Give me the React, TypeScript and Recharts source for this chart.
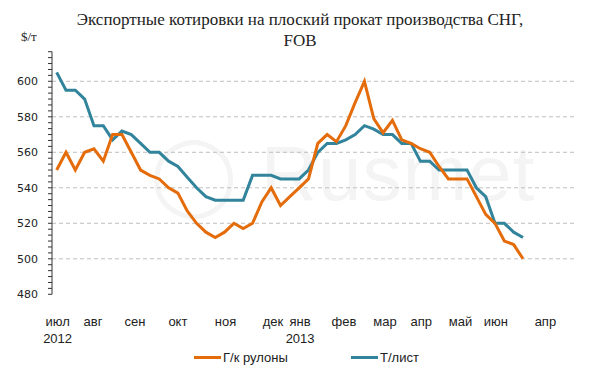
// Export quotes for CIS flat steel - Recharts line chart
import { LineChart, Line, XAxis, YAxis, ReferenceLine } from 'recharts';

const SERIES_NAMES = ['Г/к рулоны', 'Т/лист'];
const COLORS = ['#E46C0A', '#31849B'];

// weekly quotes, $/t, Jul 2012 - Jun 2013
const HR_COIL = [
    550, 560, 550, 560, 562, 555, 570, 570, 560, 550, 547, 545, 540, 537, 527, 520, 515,
    512, 515, 520, 517, 520, 532, 540, 530, 535, 540, 545, 565, 570, 566, 575, 588, 600,
    579, 571, 578, 567, 565, 562, 560, 552, 545, 545, 545, 535, 525, 520, 510, 508, 500,
];
const PLATE = [
    605, 595, 595, 590, 575, 575, 567, 572, 570, 565, 560, 560, 555, 552, 546, 540, 535,
    533, 533, 533, 533, 547, 547, 547, 545, 545, 545, 550, 560, 565, 565, 567, 570, 575,
    573, 570, 570, 565, 565, 555, 555, 550, 550, 550, 550, 540, 535, 520, 520, 515, 512,
];

const WEEK_SLOTS = 56;
const MONTHS = ['июл', 'авг', 'сен', 'окт', 'ноя', 'дек', 'янв', 'фев', 'мар', 'апр', 'май', 'июн', 'апр'];
const MONTH_AT = [0.6, 4.4, 8.9, 13.5, 18.6, 23.7, 26.6, 31.3, 35.7, 39.6, 43.8, 47.6, 52.9];
const YEARS = ['2012', '', '', '', '', '', '2013', '', '', '', '', '', ''];

const Y_MIN = 480;
const Y_MAX = 616.67;
const Y_LABELS = [480, 500, 520, 540, 560, 580, 600];
const GRID = [500, 520, 540, 560, 580, 600];

const data = HR_COIL.map((v, i) => ({ x: i + 0.5, hr: v, plate: PLATE[i] }));
const weekTicks = Array.from({ length: WEEK_SLOTS + 1 }, (_, i) => i);
const yTicks = Array.from({ length: 42 }, (_, k) => Y_MIN + (k * 20) / 6);

const MonthTick = (props: any) => {
    const { x, y, payload } = props;
    const idx = MONTH_AT.indexOf(payload.value);
    return (
        <g>
            <text x={x} y={y + 32} textAnchor="middle" fontSize={13} fill="#222" fontFamily="Liberation Sans, Arial">
                {MONTHS[idx]}
            </text>
            {YEARS[idx] && (
                <text x={x} y={y + 49} textAnchor="middle" fontSize={13} fill="#222" fontFamily="Liberation Sans, Arial">
                    {YEARS[idx]}
                </text>
            )}
        </g>
    );
};

export default function App() {
    return (
        <div style={{ position: 'absolute', left: 0, top: 0, width: 600, height: 380, background: '#fff' }}>
            {/* faint watermark */}
            <div style={{ position: 'absolute', left: 150, top: 128, fontFamily: 'Liberation Sans, Arial', fontSize: 78, color: '#f4f4f4', letterSpacing: 1 }}>
                ◯ Rusmet
            </div>
            <div style={{ position: 'absolute', top: 9, left: 0, width: 600, textAlign: 'center', fontFamily: 'Liberation Serif, serif', fontSize: 17, lineHeight: '21px', color: '#222' }}>
                Экспортные котировки на плоский прокат производства СНГ,
                <br />
                FOB
            </div>
            <div style={{ position: 'absolute', top: 29, left: 21, fontFamily: 'Liberation Serif, serif', fontSize: 13, color: '#222' }}>
                $/т
            </div>
            <div style={{ position: 'absolute', left: 0, top: 0 }}>
                <LineChart width={600} height={380} data={data} margin={{ top: 51.7, right: 25.7, left: 0, bottom: 25.7 }}>
                    <XAxis
                        dataKey="x"
                        type="number"
                        domain={[0, WEEK_SLOTS]}
                        ticks={weekTicks}
                        interval={0}
                        tick={false}
                        tickSize={4}
                        height={0}
                        stroke="#333"
                    />
                    <XAxis
                        xAxisId="months"
                        dataKey="x"
                        type="number"
                        domain={[0, WEEK_SLOTS]}
                        ticks={MONTH_AT}
                        interval={0}
                        axisLine={false}
                        tickLine={false}
                        tickSize={0}
                        tickMargin={0}
                        height={60}
                        tick={<MonthTick />}
                    />
                    <YAxis
                        type="number"
                        domain={[Y_MIN, Y_MAX]}
                        ticks={yTicks}
                        interval={0}
                        width={52}
                        tickSize={4}
                        tickMargin={10}
                        stroke="#333"
                        tick={{ fill: '#222', fontSize: 11, fontFamily: 'DejaVu Sans' }}
                        tickFormatter={(v: number) => (Y_LABELS.includes(Math.round(v * 100) / 100) ? String(Math.round(v)) : '')}
                    />
                    {GRID.map((g) => (
                        <ReferenceLine key={g} y={g} stroke="#BFBFBF" strokeDasharray="4 3" />
                    ))}
                    <Line type="linear" dataKey="plate" name={SERIES_NAMES[1]} stroke={COLORS[1]} strokeWidth={3} dot={false} isAnimationActive={false} />
                    <Line type="linear" dataKey="hr" name={SERIES_NAMES[0]} stroke={COLORS[0]} strokeWidth={3} dot={false} isAnimationActive={false} />
                </LineChart>
            </div>
            <div style={{ position: 'absolute', top: 350, left: 0, width: 600, height: 16, fontFamily: 'Liberation Sans, Arial', fontSize: 13, color: '#222' }}>
                {SERIES_NAMES.map((name, i) => (
                    <div key={name} style={{ position: 'absolute', left: i === 0 ? 194 : 351, top: 0, display: 'flex', alignItems: 'center' }}>
                        <span style={{ display: 'inline-block', width: 27, height: 3, background: COLORS[i], marginRight: 2 }} />
                        <span>{name}</span>
                    </div>
                ))}
            </div>
        </div>
    );
}
